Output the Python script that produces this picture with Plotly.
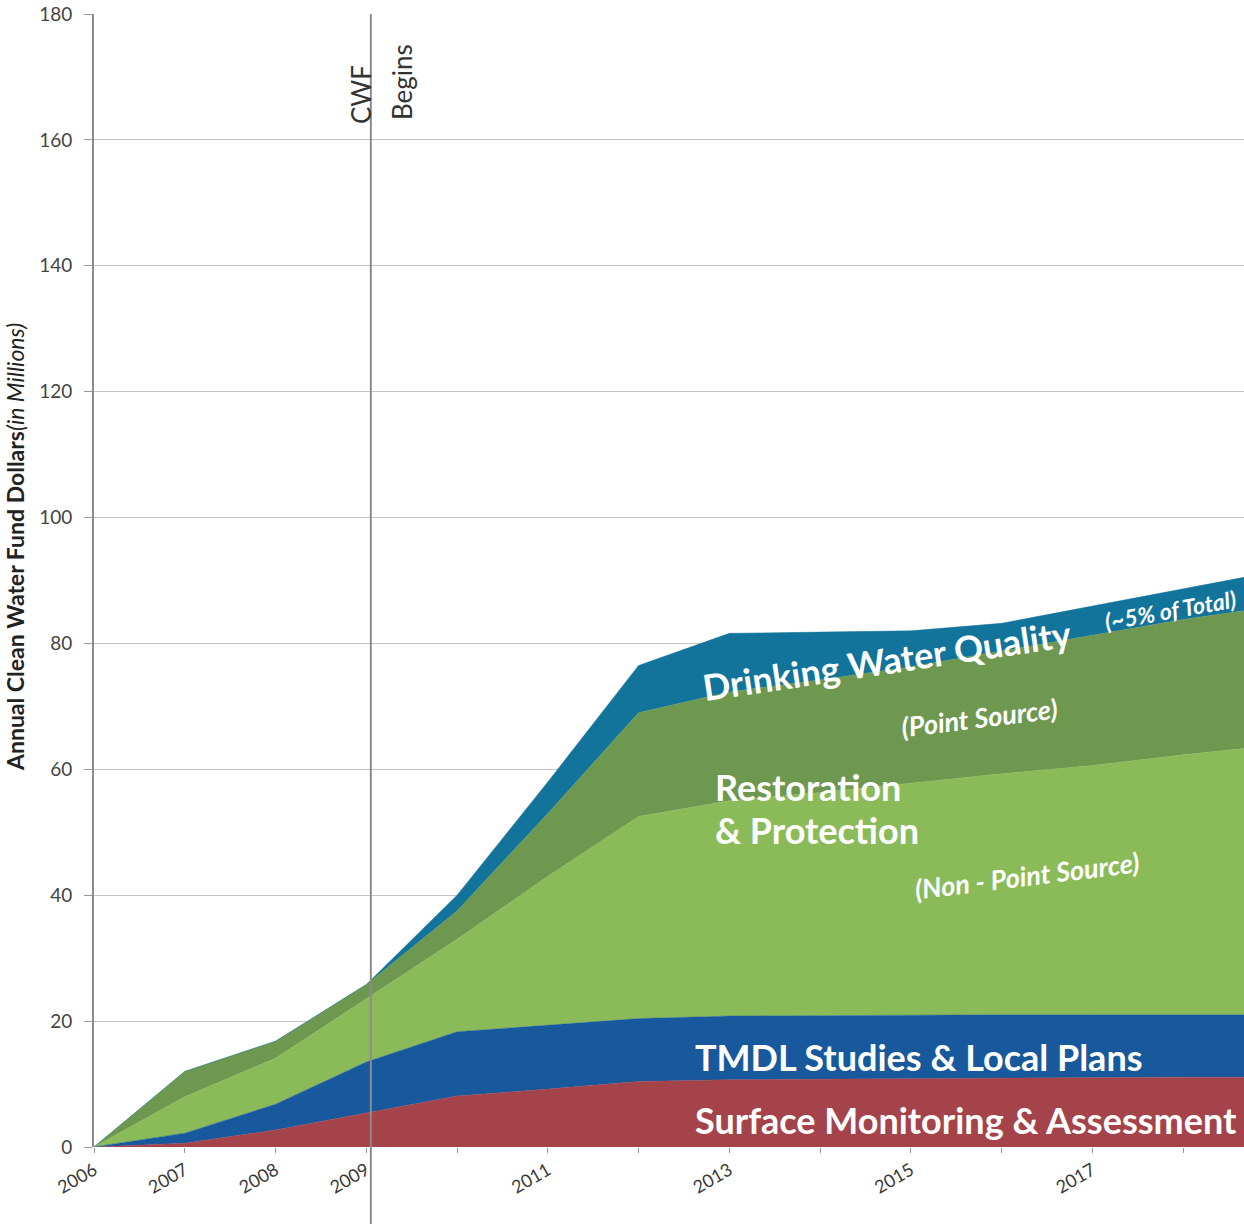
import plotly.graph_objects as go

years = [2006, 2007, 2008, 2009, 2010, 2011, 2012, 2013, 2014, 2015, 2016, 2017, 2018, 2019]
surface_monitoring = [0, 0.6, 2.7, 5.4, 8.1, 9.2, 10.4, 10.7, 10.8, 10.9, 11.0, 11.0, 11.1, 11.1]
tmdl_local_plans = [0, 1.6, 4.1, 8.1, 10.2, 10.2, 10.0, 10.1, 10.1, 10.1, 10.0, 10.0, 9.9, 9.9]
non_point_source = [0, 5.8, 7.3, 10.1, 14.7, 23.6, 32.1, 34.2, 35.4, 36.8, 38.3, 39.6, 41.3, 42.8]
point_source = [0, 4.0, 2.7, 2.2, 4.5, 10.0, 16.5, 17.3, 17.9, 18.5, 19.5, 20.7, 21.5, 22.1]
drinking_water = [0, 0, 0, 0, 2.5, 5.0, 7.5, 9.3, 7.6, 5.7, 4.4, 4.6, 4.9, 5.5]

series = [
    ("Surface Monitoring & Assessment", surface_monitoring, "#A5434B"),
    ("TMDL Studies & Local Plans", tmdl_local_plans, "#17599C"),
    ("Restoration & Protection (Non-Point Source)", non_point_source, "#8BBB59"),
    ("Restoration & Protection (Point Source)", point_source, "#6E9850"),
    ("Drinking Water Quality", drinking_water, "#12749A"),
]

x_tickvals = list(range(2006, 2019))
x_ticklabels = ["2006", "2007", "2008", "2009", "", "2011", "", "2013", "", "2015", "", "2017", ""]
y_tickvals = [0, 20, 40, 60, 80, 100, 120, 140, 160, 180]

FONT = "Lato"
fig = go.Figure()
for name, vals, col in series:
    fig.add_trace(go.Scatter(
        x=years, y=vals, name=name, stackgroup="one", mode="lines",
        line=dict(width=0.5, color=col), fillcolor=col, hoverinfo="x+y+name",
    ))

W, H = 1244, 1224
L, R, T, B = 94, 0, 14, 77
pw, ph = W - L - R, H - T - B


def px(xp):
    return (xp - L) / pw


def py(yp):
    return (H - B - yp) / ph


fig.update_layout(
    width=W, height=H, autosize=False,
    margin=dict(l=L, r=R, t=T, b=B),
    paper_bgcolor="white", plot_bgcolor="white",
    showlegend=False,
    font=dict(family=FONT, color="#3a3a3a"),
    xaxis=dict(
        range=[2006, 2018.67], tickvals=x_tickvals, ticktext=x_ticklabels,
        tickangle=-30, ticks="outside", ticklen=5, tickcolor="#999",
        tickfont=dict(size=18, color="#3a3a3a", family=FONT),
        showgrid=False, zeroline=False, showline=False,
    ),
    yaxis=dict(
        range=[0, 180], tickvals=y_tickvals,
        ticks="outside", ticklen=8, tickcolor="#999",
        tickfont=dict(size=19, color="#444", family=FONT),
        ticklabelstandoff=8,
        showgrid=True, gridcolor="#c4c4c4", gridwidth=1,
        zeroline=False, showline=True, linecolor="#8c8c8c", linewidth=2,
    ),
)

# CWF begins vertical line
fig.add_shape(type="line", xref="x", yref="paper", x0=2009.05, x1=2009.05, y0=py(1224), y1=1,
              line=dict(color="#8c8c8c", width=2), layer="above")

white = "white"


def label(text, xc, yc, size, angle=0, color=white, anchor="center"):
    return dict(text=text, x=px(xc), y=py(yc), xref="paper", yref="paper", textangle=angle,
                showarrow=False, font=dict(size=size, color=color, family=FONT),
                xanchor=anchor, yanchor="middle")


ann = [
    label("CWF", 361, 95, 26, -90, "#333"),
    label("Begins", 402, 82, 26, -90, "#333"),
    label("<b>Annual Clean Water Fund Dollars</b><i>(in Millions)</i>", 15, 547, 23, -90, "#222"),
    label("<b>Drinking Water Quality</b>", 887, 660, 36, -8.5),
    label("<b><i>(~5% of Total)</i></b>", 1170, 610, 23, -10),
    label("<b><i>(Point Source)</i></b>", 979, 718, 27, -7),
    label("<b>Restoration</b>", 713, 787, 36, 0, white, "left"),
    label("<b>&amp; Protection</b>", 713, 830, 36, 0, white, "left"),
    label("<b><i>(Non - Point Source)</i></b>", 1027, 875, 27, -7),
    label("<b>TMDL Studies &amp; Local Plans</b>", 693, 1057, 36, 0, white, "left"),
    label("<b>Surface Monitoring &amp; Assessment</b>", 693, 1120, 36, 0, white, "left"),
]
fig.update_layout(annotations=ann)

fig.write_html("out.html")
